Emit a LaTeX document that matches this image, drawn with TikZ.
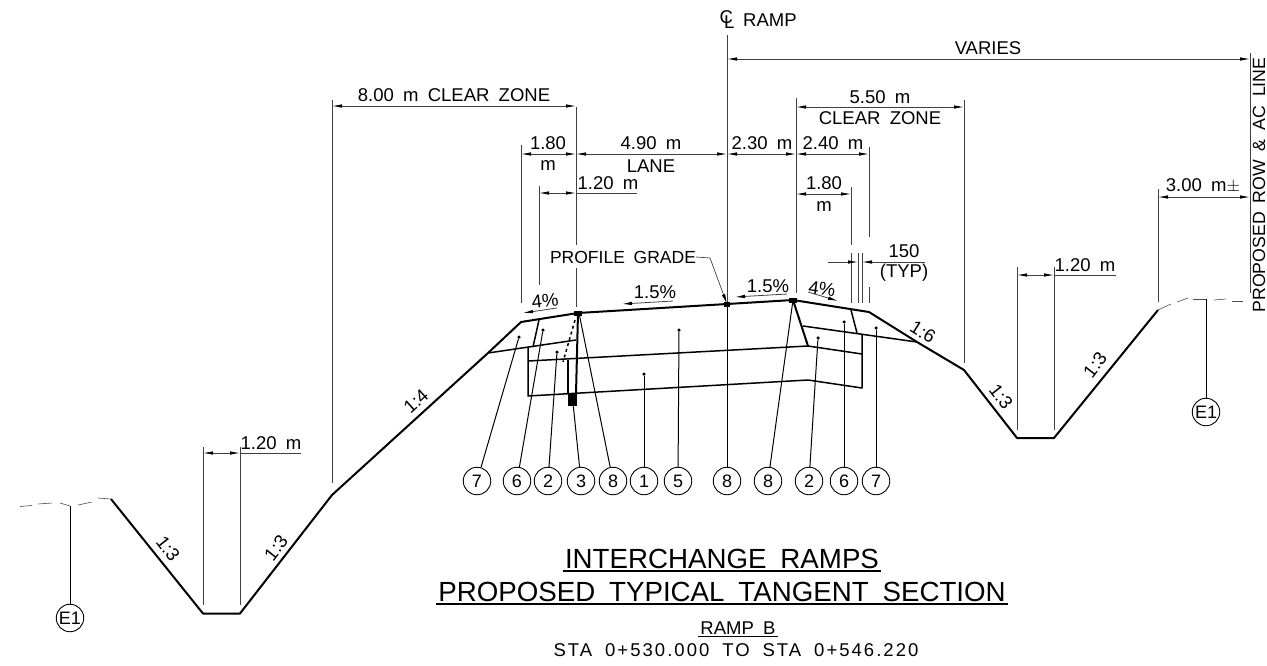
\documentclass[tikz,border=0pt]{standalone}
\usepackage{fontspec}
\setmainfont{Liberation Sans}[WordSpace=1.8]
\usetikzlibrary{arrows.meta}

\tikzset{
  profile/.style={line width=2pt, line join=round},
  layer/.style={line width=1.5pt, line join=round},
  extline/.style={line width=0.8pt, black!75},
  dimline/.style={line width=0.8pt, black!75, {Latex[length=10pt,width=3.5pt,black]}-{Latex[length=10pt,width=3.5pt,black]}},
  slopeline/.style={line width=0.8pt, black!75, {Latex[length=10pt,width=3.5pt,black]}-},
  leader/.style={line width=1pt},
  ground/.style={line width=0.6pt, black!70},
  lbl/.style={font=\fontsize{18.5}{18.5}\selectfont, inner sep=0pt},
  itemmark/.style={circle, draw, line width=0.9pt, minimum size=27.5pt, inner sep=0pt, font=\fontsize{18}{18}\selectfont},
  leaddot/.style={circle, fill, inner sep=0pt, minimum size=3.5pt},
  titlea/.style={font=\fontsize{27.7}{27.7}\selectfont, inner sep=2pt},
}

\begin{document}
\begin{tikzpicture}[x=1pt, y=-1pt]
  \useasboundingbox (0,0) rectangle (1267,665);

  % section outline
  \foreach \name/\x/\y in {p1/111/499, p2/203/613.5, p3/240/613.5, p4/332/495, p5/488/353, p6/521/322, p7/578/313,
      p8/727/304, p9/793/300, p10/869/312, p11/917/342, p12/964/370, p13/1017/438, p14/1054/438, p15/1158/310}
    \coordinate (\name) at (\x,\y);
  \draw [profile] (p1) -- (p2) -- (p3) -- (p4) -- (p5) -- (p6) -- (p7) -- (p8) -- (p9) -- (p10) -- (p11) -- (p12) -- (p13) -- (p14) -- (p15);

  % pavement layers
  \foreach \name/\x/\y in {q1/528/347, q2/528/361, q3/528/396, q4/808/346, q5/808/380, q6/862/354, q7/862/388, q8/862/335,
      q9/803/326, q10/576/340, q11/576/394, q12/568/360, q13/568/394, q14/539/320, q15/533/347, q16/851/310, q17/857/333,
      q18/575/320, q19/563/362}
    \coordinate (\name) at (\x,\y);
  \draw [layer] (p5) -- (q10);
  \draw [layer] (q1) -- (q3) -- (q5) -- (q7) -- (q8);
  \draw [layer] (q2) -- (q4) -- (q6);
  \draw [layer] (q9) -- (p11);
  \draw [profile] (p9) -- (q4);
  \draw [layer] (q16) -- (q17);
  \draw [layer] (q14) -- (q15);
  \draw [profile] (p7) -- (q11);
  \draw [layer] (q12) -- (q13);
  \draw [layer, dashed] (q18) -- (q19);
  \fill (568,394) rectangle (577,406);
  \fill (p7) ++(-4,-2.5) rectangle ++(8,5);
  \fill (p8) ++(-3,-2.5) rectangle ++(6,5);
  \fill (p9) ++(-4,-2.5) rectangle ++(8,5);

  % existing ground
  \foreach \xa/\ya/\xb/\yb in {20/506.5/32/505.5, 38/504/52/503, 60/503/70/506, 78/505/92/502, 98/498/111/499,
      1158/310/1171/304, 1177/302/1188/298, 1193/299/1206/299, 1214/300/1226/299, 1232/301/1243/301}
    \draw [ground] (\xa,\ya) -- (\xb,\yb);

  % extension lines
  \foreach \name/\x/\ya/\yb in {ea/332/100/483, eb/521/145/303, ec/539/186/285, ed/869/147/237, ee/869/287/303,
      ef/796/98/293, eg/851/187/245, eh/851/253/303, ei/858/253/303, ej/862/253/303, ek/964/100/363,
      el/203/447/605, em/240/447/605, en/1017/267/430, eo/1054/267/430, ep/1158/189/302, eq/1250/53/293,
      er/576/107/245, es/576/268/307}
    \draw [extline] (\x,\ya) coordinate (\name a) -- (\x,\yb) coordinate (\name b);
  \coordinate (cl top) at (727,35);

  % dimension arrows
  \foreach \name/\xa/\xb/\y in {va/727/1250/59, cza/332/576/106, czb/796/964/107, da/521/576/154, db/576/727/154,
      dc/727/796/154, dd/796/869/154, de/539/576/193, df/796/851/194, dg/203/240/453, dh/1017/1054/275, di/1158/1250/197}
    \draw [dimline] (\xa,\y) coordinate (\name a) -- (\xb,\y) coordinate (\name b);
  \draw [extline] (deb) -- (637,193);
  \draw [extline] (dgb) -- (301,453);
  \draw [extline] (dhb) -- (1116,275);

  % 150 typ
  \coordinate (ta) at (828,262);
  \coordinate (tb) at (858,262);
  \coordinate (tc) at (862,262);
  \coordinate (td) at (925,262);
  \draw [line width=0.8pt, black!75, -{Latex[length=10pt,width=3.5pt,black]}] (ta) -- (tb);
  \draw [line width=0.8pt, black!75, -{Latex[length=10pt,width=3.5pt,black]}] (td) -- (tc);

  % profile grade leader
  \node [lbl, font=\fontsize{17.5}{17.5}\selectfont] (grade) at (623,257) {PROFILE GRADE};
  \coordinate (gk) at (710,258);
  \draw [line width=0.7pt, black!75, -{Latex[length=10pt,width=3.5pt,black]}] (grade.east) -- (gk) -- (p8);

  % slope arrows
  \foreach \xa/\ya/\xb/\yb in {523/313/557/308, 622/304/673/301, 735/297/787/294, 838/301/808/292}
    \draw [slopeline] (\xa,\ya) -- (\xb,\yb);

  % labels
  \node [lbl] (cl) at (727,20) {\rlap{C}\kern4.5pt\raisebox{-5pt}{L}};
  \node [lbl, anchor=west] (ramp) at (743,20) {RAMP};
  \node [lbl] (varies) at (988,48) {VARIES};
  \node [lbl] (clz) at (454,95) {8.00 m CLEAR ZONE};
  \node [lbl] (f1) at (880,97) {5.50 m};
  \node [lbl] (f2) at (880,118) {CLEAR ZONE};
  \node [lbl] (s1) at (548,143) {1.80};
  \node [lbl] (s2) at (548,166) {m};
  \node [lbl] (l1) at (651,143) {4.90 m};
  \node [lbl] (l2) at (651,166) {LANE};
  \node [lbl] (r1) at (762,143) {2.30 m};
  \node [lbl] (r2) at (833,143) {2.40 m};
  \node [lbl] (w1) at (608,183) {1.20 m};
  \node [lbl] (w2) at (824,183) {1.80};
  \node [lbl] (w3) at (824,207) {m};
  \node [lbl] (t1) at (904,251) {150};
  \node [lbl] (t2) at (904,273) {(TYP)};
  \node [lbl] (d1) at (271,443) {1.20 m};
  \node [lbl] (d2) at (1085,265) {1.20 m};
  \node [lbl] (d3) at (1203,186) {3.00 m$\pm$};
  \node [lbl, rotate=90, font=\fontsize{17.7}{17.7}\selectfont] (row) at (1259,185) {PROPOSED ROW \& AC LINE};
  \node [lbl, rotate=6] (sl1) at (545,301) {4\%};
  \node [lbl] (sl2) at (655,292) {1.5\%};
  \node [lbl] (sl3) at (768,286) {1.5\%};
  \node [lbl, rotate=-8] (sl4) at (822,289) {4\%};
  \node [lbl, rotate=-32] (sl5) at (923,332) {1:6};
  \node [lbl, rotate=42] (sl6) at (416,401) {1:4};
  \node [lbl, rotate=-52] (sl7) at (168,549) {1:3};
  \node [lbl, rotate=52] (sl8) at (276,548) {1:3};
  \node [lbl, rotate=-52] (sl9) at (1001,397) {1:3};
  \node [lbl, rotate=52] (sl10) at (1095,365) {1:3};

  % numbered marks and leaders
  \foreach \name/\x/\txt/\dx/\dy in {m7a/477/7/519/337, m6a/517/6/543/330, m2a/548/2/557/352, m3/581/3/573/403, m8a/613/8/579/313,
      m1/644/1/644/374, m5/678/5/679/330, m8b/727/8/727/304, m8c/768/8/793/300, m2b/809/2/818/338, m6b/844/6/844/322, m7b/876/7/876/328}{
    \node [itemmark] (\name) at (\x,481) {\txt};
    \node [leaddot] (\name s) at (\dx,\dy) {};
    \draw [leader] (\name s) -- (\name);
  }
  \draw [extline] (cl top) -- (m8bs);

  % existing ground marks
  \node [itemmark] (e1a) at (70,618) {E1};
  \node [itemmark] (e1b) at (1206,412) {E1};
  \coordinate (e1at) at (70,506);
  \coordinate (e1bt) at (1206,299);
  \draw [leader] (e1at) -- (e1a);
  \draw [leader] (e1bt) -- (e1b);

  % title
  \node [titlea] (ttl1) at (722,559) {INTERCHANGE RAMPS};
  \node [titlea] (ttl2) at (722,592) {PROPOSED TYPICAL TANGENT SECTION};
  \node [lbl, inner sep=2pt] (ttl3) at (738,628) {RAMP B};
  \node [lbl, font=\fontsize{18.5}{18.5}\selectfont\addfontfeature{LetterSpace=11}] (ttl4) at (736,650) {STA 0+530.000 TO STA 0+546.220};
  \draw [line width=1.2pt] (ttl1.south west) -- (ttl1.south east);
  \draw [line width=1.2pt] (ttl2.south west) -- (ttl2.south east);
  \draw [line width=0.9pt] (ttl3.south west) -- (ttl3.south east);
\end{tikzpicture}
\end{document}
